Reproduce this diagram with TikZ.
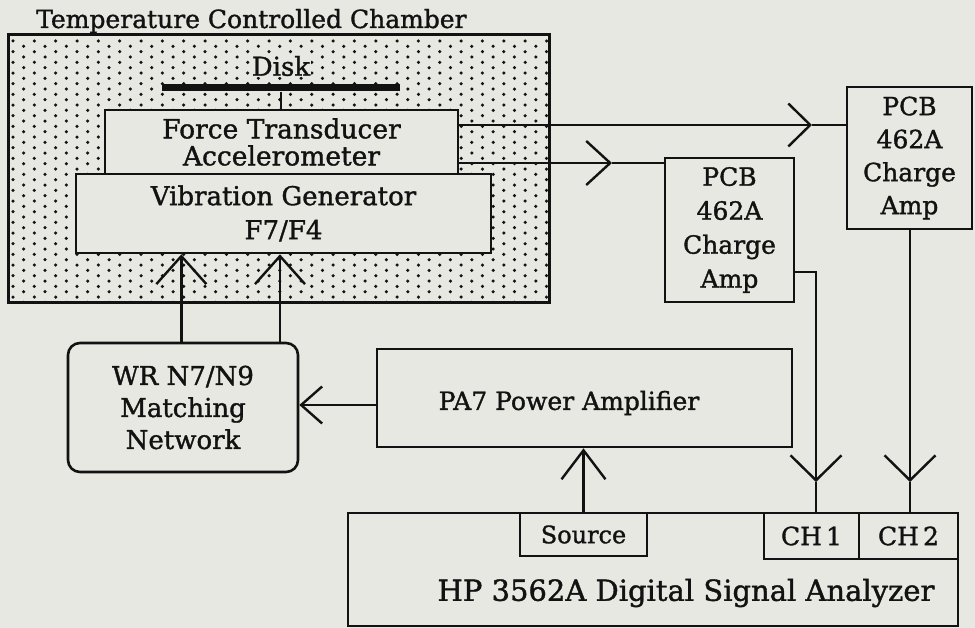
\documentclass[tikz,border=0pt]{standalone}
\usepackage{fontspec}
\setmainfont{DejaVu Serif}[FakeBold=1.3]
\usetikzlibrary{arrows.meta,calc}
\definecolor{bg}{RGB}{231,232,225}
\definecolor{ink}{RGB}{18,18,18}
\begin{document}
\begin{tikzpicture}[x=1pt,y=-1pt,
  box/.style={draw=ink, line width=2.6pt, fill=bg, inner sep=0pt, align=center, text=ink},
  lbl/.style={text=ink, inner sep=0pt},
  wire/.style={draw=ink, line width=2.4pt},
  arr/.style 2 args={-{Straight Barb[length=#1pt,width=#2pt,line width=2.4pt]}},
  fnt/.style 2 args={font=\fontsize{#1}{#2}\selectfont}]
\useasboundingbox (0,0) rectangle (975,628);
\fill[bg] (0,0) rectangle (975,628);
% title
\node[lbl, fnt={25}{30}, anchor=base west] (title) at (36,28) {Temperature Controlled Chamber};
% dots
\begin{scope}
\clip (8,35) rectangle (549,303);
\foreach \i in {0,...,51}{\foreach \j in {0,...,26}{
  \fill[ink] ({13+10.67*\i},{41+10.67*\j+5.33*mod(\i,2)}) circle (1.75pt);}}
\end{scope}
\node[draw=ink, line width=3pt, inner sep=0pt, minimum width=541pt, minimum height=268pt] (chamber) at (278.5,169) {};
% disk
\node[fill=ink, inner sep=0pt, minimum width=238pt, minimum height=7pt] (disk) at (281,88) {};
\node[lbl, fill=bg, inner sep=0.5pt, fnt={26}{30}] (disklbl) at (281,66) {Disk};
% force transducer and vibration generator
\node[box, fnt={26.5}{27}, minimum width=353pt, minimum height=64pt] (ft) at (281.5,142) {Force Transducer\\Accelerometer};
\node[box, fnt={26}{34}, minimum width=415pt, minimum height=79pt] (vg) at (283.5,213.5) {Vibration Generator\\F7/F4};
\draw[wire] (disk.south) -- (disk.south |- ft.north);
% matching network
\node[box, rounded corners=12pt, fnt={26}{32}, minimum width=230pt, minimum height=129pt] (mn) at (183,407.5) {WR N7/N9\\Matching\\Network};
\coordinate (in1) at ($(vg.south west)!0.2554!(vg.south east)$);
\coordinate (in2) at ($(vg.south west)!0.4916!(vg.south east)$);
\draw[wire, arr={28}{50}] (in1 |- mn.north) -- (in1);
\draw[wire, arr={28}{50}] (in2 |- mn.north) -- (in2);
% power amplifier
\node[box, minimum width=415pt, minimum height=98pt] (pa) at (584.5,398) {};
\node[lbl, fnt={25}{30}] (palbl) at (569,403) {PA7 Power Amplifier};
\draw[wire, arr={21}{37}] ([yshift=-7pt]pa.west) -- ([yshift=-7pt]pa.west -| mn.east);
% charge amplifiers
\node[box, fnt={25}{34}, minimum width=129pt, minimum height=144pt] (pcb1) at (729.5,230) {PCB\\462A\\Charge\\Amp};
\node[box, fnt={25}{33}, minimum width=125pt, minimum height=142pt] (pcb2) at (909.5,158) {PCB\\462A\\Charge\\Amp};
\coordinate (t1) at (812,125);
\coordinate (t2) at (612,163);
\draw[wire, arr={22}{43}] (t1 -| ft.east) -- (t1);
\draw[wire] (t1) -- (t1 -| pcb2.west);
\draw[wire, arr={24}{44}] (t2 -| ft.east) -- (t2);
\draw[wire] (t2) -- (t2 -| pcb1.west);
% analyzer
\node[box, minimum width=610pt, minimum height=113pt] (hp) at (653,569.5) {};
\node[lbl, fnt={29}{30}] (hplbl) at (686,593) {HP 3562A Digital Signal Analyzer};
\node[box, fnt={24}{30}, minimum width=127pt, minimum height=43pt] (src) at (583.5,534.5) {Source};
\node[box, fnt={25}{30}, minimum width=95pt, minimum height=46pt] (ch1) at (811.5,536) {CH\,1};
\node[box, fnt={25}{30}, minimum width=99pt, minimum height=46pt] (ch2) at (908.5,536) {CH\,2};
\draw[wire, arr={29}{44}] (src.north) -- (src.north |- pa.south);
\coordinate (k1) at (816,272);
\coordinate (c1) at (816,482);
\coordinate (c2) at (910,482);
\draw[wire, arr={25}{51}] (k1 -| pcb1.east) -- (k1) -- (c1);
\draw[wire] (c1) -- (c1 |- ch1.north);
\draw[wire, arr={25}{51}] (c2 |- pcb2.south) -- (c2);
\draw[wire] (c2) -- (c2 |- ch2.north);
\end{tikzpicture}
\end{document}
